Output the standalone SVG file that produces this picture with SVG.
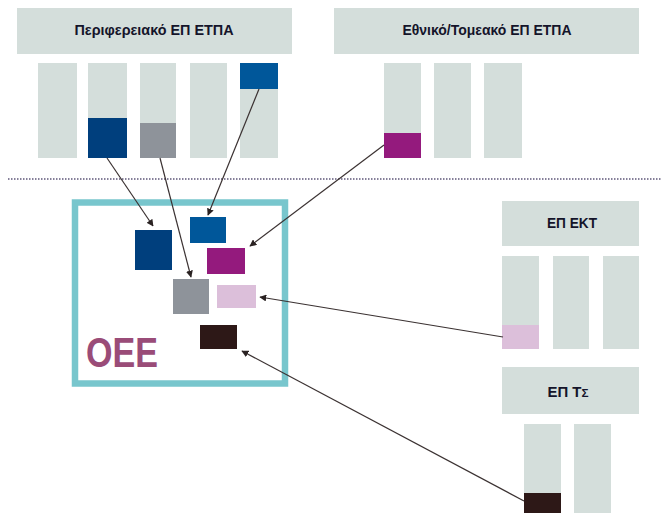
<svg xmlns="http://www.w3.org/2000/svg" width="662" height="513" viewBox="0 0 662 513">
<defs>
<style>
.hdr{fill:#D4DEDB}
.bar{fill:#D4DEDB}
.ht{font-family:"Liberation Sans",Arial,sans-serif;font-weight:bold;font-size:14px;fill:#14142a;text-anchor:middle}
.conn{stroke:#3b3232;stroke-width:1.2;fill:none;marker-end:url(#ah)}
</style>
<marker id="ah" viewBox="0 0 10 10" refX="9" refY="5" markerWidth="7" markerHeight="7" markerUnits="userSpaceOnUse" orient="auto">
<path d="M0,0 L10,5 L0,10 z" fill="#2a2222"/>
</marker>
</defs>
<rect width="662" height="513" fill="#ffffff"/>

<g id="periferiako">
<rect class="hdr" x="17" y="8" width="275" height="46"/>
<text class="ht" x="154" y="35" textLength="159" lengthAdjust="spacingAndGlyphs">Περιφερειακό ΕΠ ΕΤΠΑ</text>
<rect class="bar" x="38" y="63" width="39" height="95"/>
<rect class="bar" x="88" y="63" width="39" height="95"/>
<rect x="88" y="118" width="39" height="40" fill="#003F7D"/>
<rect class="bar" x="140" y="63" width="36" height="95"/>
<rect x="140" y="123" width="36" height="35" fill="#8E939A"/>
<rect class="bar" x="190" y="63" width="37" height="95"/>
<rect class="bar" x="240" y="63" width="38" height="95"/>
<rect x="240" y="63" width="38" height="26" fill="#00579A"/>
</g>

<g id="ethniko">
<rect class="hdr" x="334" y="8" width="305" height="46"/>
<text class="ht" x="487" y="35" textLength="169" lengthAdjust="spacingAndGlyphs">Εθνικό/Τομεακό ΕΠ ΕΤΠΑ</text>
<rect class="bar" x="384" y="63" width="37" height="95"/>
<rect x="384" y="133" width="37" height="25" fill="#941A7D"/>
<rect class="bar" x="434" y="63" width="37" height="95"/>
<rect class="bar" x="484" y="63" width="38" height="95"/>
</g>

<line id="divider" x1="8" y1="179" x2="662" y2="179" stroke="#5e5678" stroke-width="1.5" stroke-dasharray="1.5,1.5"/>

<g id="oee">
<rect x="75" y="202.5" width="210" height="181" fill="none" stroke="#78C6CD" stroke-width="6.5"/>
<rect x="135" y="230" width="37" height="40" fill="#003F7D"/>
<rect x="190" y="217" width="36" height="26" fill="#00579A"/>
<rect x="207" y="248" width="38" height="26" fill="#941A7D"/>
<rect x="173" y="279" width="36" height="35" fill="#8E939A"/>
<rect x="217" y="285" width="39" height="23" fill="#DCBFDA"/>
<rect x="200" y="325" width="37" height="24" fill="#2D1817"/>
<text x="86" y="367" font-family="Liberation Sans,Arial,sans-serif" font-weight="bold" font-size="42" fill="#9A4C78" textLength="72" lengthAdjust="spacingAndGlyphs">ΟΕΕ</text>
</g>

<g id="ep-ekt">
<rect class="hdr" x="502" y="201" width="137" height="45"/>
<text class="ht" x="572" y="228" textLength="50" lengthAdjust="spacingAndGlyphs">ΕΠ ΕΚΤ</text>
<rect class="bar" x="502" y="256" width="37" height="93"/>
<rect x="502" y="325" width="37" height="24" fill="#DCBFDA"/>
<rect class="bar" x="553" y="256" width="36" height="93"/>
<rect class="bar" x="603" y="256" width="36" height="93"/>
</g>

<g id="ep-ts">
<rect class="hdr" x="502" y="367" width="137" height="47"/>
<text class="ht" x="568" y="397" textLength="41" lengthAdjust="spacingAndGlyphs">ΕΠ Τ<tspan font-size="11">Σ</tspan></text>
<rect class="bar" x="524" y="424" width="37" height="89"/>
<rect x="524" y="493" width="37" height="20" fill="#2D1817"/>
<rect class="bar" x="574" y="424" width="37" height="89"/>
</g>

<g id="connectors">
<line class="conn" x1="107" y1="158" x2="153" y2="226"/>
<line class="conn" x1="160" y1="158" x2="191" y2="277"/>
<line class="conn" x1="259" y1="89" x2="208" y2="215"/>
<line class="conn" x1="384" y1="145" x2="250" y2="246"/>
<line class="conn" x1="503" y1="337" x2="260" y2="297"/>
<line class="conn" x1="524" y1="501" x2="242" y2="351"/>
</g>
</svg>
